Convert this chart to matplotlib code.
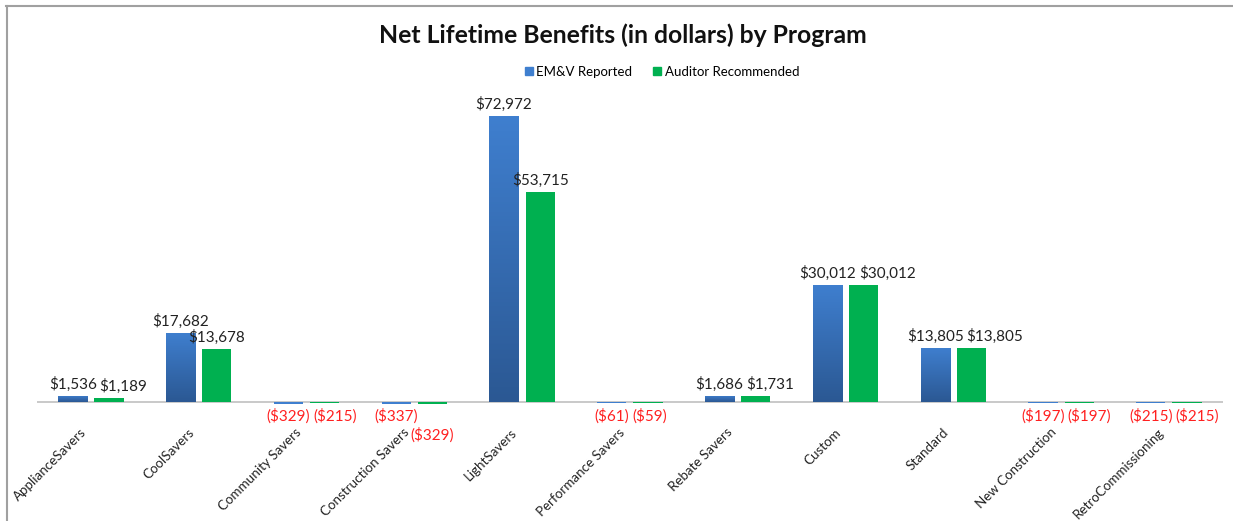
import matplotlib.pyplot as plt
import numpy as np
from matplotlib.patches import Patch
from matplotlib.lines import Line2D
from matplotlib.colors import LinearSegmentedColormap
from matplotlib.transforms import ScaledTranslation

plt.rcParams['font.family'] = ['Lato', 'DejaVu Sans']

programs = ["ApplianceSavers", "CoolSavers", "Community Savers", "Construction Savers",
            "LightSavers", "Performance Savers", "Rebate Savers", "Custom", "Standard",
            "New Construction", "RetroCommissioning"]
emv_reported = [1536, 17682, -329, -337, 72972, -61, 1686, 30012, 13805, -197, -215]
auditor_recommended = [1189, 13678, -215, -329, 53715, -59, 1731, 30012, 13805, -197, -215]

blue_top = "#3f7fcf"
blue_bottom = "#2b5893"
green = "#00b050"
neg_red = "#ff2020"
lbl_size = 11

fig = plt.figure(figsize=(12.33, 5.21), dpi=100)
ax = fig.add_axes([0.030, 0.2246, 0.9617, 0.6024])

x = np.arange(len(programs))
w = 0.27
off = 0.168

# blue series gets a vertical gradient, clipped to each bar
grad = np.linspace(0, 1, 256).reshape(-1, 1)
bcmap = LinearSegmentedColormap.from_list("b", [blue_bottom, blue_top])

blue_bars = ax.bar(x - off, emv_reported, width=w, color=blue_top, zorder=2)
for b in blue_bars:
    x0, y0 = b.get_x(), b.get_y()
    bw, bh = b.get_width(), b.get_height()
    if bh > 0:
        im = ax.imshow(grad, cmap=bcmap, origin="lower", aspect="auto",
                       extent=[x0, x0 + bw, y0, y0 + bh], zorder=3)
        im.set_clip_path(b)
green_bars = ax.bar(x + off, auditor_recommended, width=w, color=green, zorder=2)
ax.set_xlim(-0.5, len(programs) - 0.5)
ax.set_ylim(-400, 79700)

ax.axhline(0, color="#c0c0c0", lw=1.2, zorder=1)

def money(v):
    return "${:,}".format(v) if v >= 0 else "(${:,})".format(-v)

pairs = []
for i, (a, b) in enumerate(zip(emv_reported, auditor_recommended)):
    row = []
    for xx, v in ((i - off, a), (i + off, b)):
        if v >= 0:
            t = ax.annotate(money(v), (xx, v), xytext=(0, 3), textcoords="offset points",
                            ha="center", va="bottom", fontsize=lbl_size, color="#222222")
        else:
            dy = -4
            # Construction Savers labels collide, drop the second one a row
            if programs[i] == "Construction Savers" and xx > i:
                dy = -18
            t = ax.annotate(money(v), (xx, 0), xytext=(0, dy), textcoords="offset points",
                            ha="center", va="top", fontsize=lbl_size, color=neg_red)
        row.append(t)
    pairs.append(row)

ax.set_xticks(x)
ax.set_xticklabels(programs, rotation=45, ha="right", va="center", rotation_mode="anchor",
                   fontsize=9.6, color="#222222")
ax.tick_params(axis="x", length=0, pad=19)
shift = ScaledTranslation(-5 / 72, 0, fig.dpi_scale_trans)
for tl in ax.get_xticklabels():
    tl.set_transform(tl.get_transform() + shift)
ax.set_yticks([])
for s in ax.spines.values():
    s.set_visible(False)

fig.text(0.505, 0.933, "Net Lifetime Benefits (in dollars) by Program", ha="center", va="center",
         fontsize=17.8, fontweight="bold", color="#111111")

handles = [Patch(color=blue_top, label="EM&V Reported"),
           Patch(color=green, label="Auditor Recommended")]
fig.legend(handles=handles, loc="center", bbox_to_anchor=(0.537, 0.862), ncol=2, frameon=False,
           fontsize=9.5, handlelength=0.6, handleheight=0.6, columnspacing=1.6, handletextpad=0.25)

# chart frame: top and left edges only
fig.add_artist(Line2D([0.005, 1.0], [0.989, 0.989], transform=fig.transFigure,
                      color="#a0a0a0", lw=1.5))
fig.add_artist(Line2D([0.0053, 0.0053], [0.0, 0.989], transform=fig.transFigure,
                      color="#a0a0a0", lw=1.5))

# nudge the second label of a pair right when the two overlap
fig.canvas.draw()
r = fig.canvas.get_renderer()
for blue_t, green_t in pairs:
    bb1 = blue_t.get_window_extent(r)
    bb2 = green_t.get_window_extent(r)
    if bb1.y1 > bb2.y0 and bb2.y1 > bb1.y0 and bb1.x1 + 3 > bb2.x0:
        dx = (bb1.x1 + 3 - bb2.x0) * 72 / fig.dpi
        ox, oy = green_t.xyann
        green_t.xyann = (ox + dx, oy)

fig.savefig("out.png", dpi=100)
